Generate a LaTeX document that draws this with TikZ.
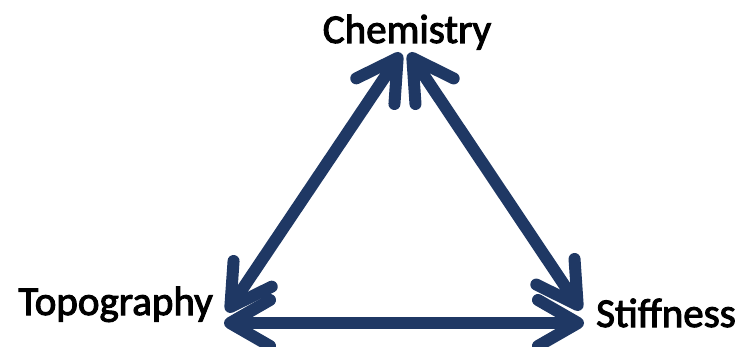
\documentclass[tikz,border=0pt]{standalone}
\usepackage{fontspec}
\setmainfont{Carlito}[FakeBold=2.5]
\usetikzlibrary{arrows.meta,positioning}
\definecolor{navyarrow}{RGB}{31,56,100}

\begin{document}
\begin{tikzpicture}[x=1pt, y=-1pt,
  label/.style={font=\fontsize{41}{41}\selectfont, text=black, inner sep=0pt},
  link/.style={navyarrow, line width=12pt,
    {Straight Barb[round, length=40pt, width=46pt]}-{Straight Barb[round, length=40pt, width=46pt]}}]

% === Frame ===
\useasboundingbox (0,0) rectangle (738,347);

% === Labels ===
\node[label, anchor=base] (chem) at (407,43) {Chemistry};
\node[label, anchor=base east] (topo) at (213,315) {Topography};
\node[label, anchor=base east] (stiff) at (736,327) {Stiffness};

% === Arrow tips ===
\coordinate (chemL) at (401,53);
\coordinate (chemR) at (409,53);
\coordinate (topoU) at (227,312);
\coordinate (topoR) at (224,323);
\coordinate (stiffU) at (581,310);
\coordinate (stiffL) at (584,323);

% === Arrows ===
\draw[link] (chemL) -- (topoU);
\draw[link] (chemR) -- (stiffU);
\draw[link] (topoR) -- (stiffL);

\end{tikzpicture}
\end{document}
